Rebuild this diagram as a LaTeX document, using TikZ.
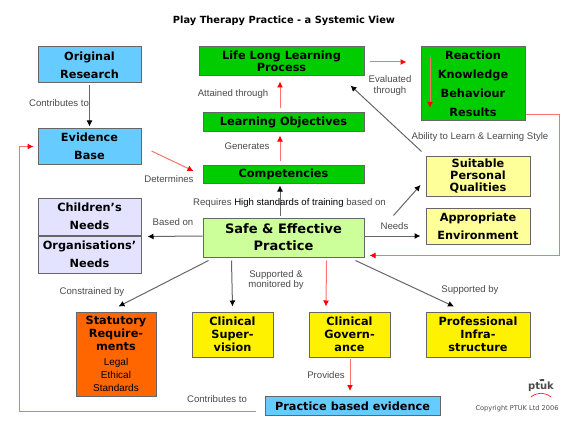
\documentclass[tikz,border=0pt]{standalone}
\usepackage{fontspec}
\setmainfont{DejaVu Sans}
\newfontfamily\labelfont{Liberation Sans}
\usepackage{tikz}
\usetikzlibrary{arrows.meta}
\definecolor{SkyBox}{HTML}{66CCFF}
\definecolor{GreenBox}{HTML}{00CC00}
\definecolor{PaleGreen}{HTML}{CCFF99}
\definecolor{PaleYellow}{HTML}{FFFF99}
\definecolor{Lilac}{HTML}{E3E3FF}
\definecolor{Burnt}{HTML}{FF6600}
\definecolor{BoxEdge}{HTML}{666666}
\definecolor{LabelGrey}{HTML}{4A4A4A}
\definecolor{RedLine}{HTML}{FF7070}
\definecolor{BlackLine}{HTML}{666666}
\tikzset{
  box/.style={draw=BoxEdge,line width=1pt,inner sep=0pt,align=center,text=black,
    font=\bfseries\fontsize{11.3}{18}\selectfont},
  tight/.style={font=\bfseries\fontsize{11.3}{12.2}\selectfont},
  lbl/.style={text=LabelGrey,inner sep=0pt,align=center,font=\labelfont\fontsize{9.6}{8}\selectfont},
  blk/.style={color=BlackLine,line width=1pt,-{Latex[black,length=6pt,width=6pt]}},
  redl/.style={color=RedLine,line width=1pt,-{Latex[red,length=6pt,width=6pt]}},
}
\begin{document}
\begin{tikzpicture}[x=1pt,y=-1pt]
  \useasboundingbox[fill=white] (0,0) rectangle (567,425);
  \node[inner sep=0pt,font=\bfseries\fontsize{9.85}{11}\selectfont] (title) at (284,21) {Play Therapy Practice - a Systemic View};
  % left column
  \node[box,fill=SkyBox,minimum width=103pt,minimum height=36pt] (research) at (89.5,65) {Original\\Research};
  \node[box,fill=SkyBox,minimum width=103pt,minimum height=36pt] (evidence) at (89.5,146) {Evidence\\Base};
  \node[box,fill=Lilac,minimum width=103pt,minimum height=37pt] (children) at (89.5,216.5) {Children’s\\Needs};
  \node[box,fill=Lilac,minimum width=103pt,minimum height=37pt] (organisations) at (89.5,254.5) {Organisations’\\Needs};
  % centre column
  \node[box,tight,fill=GreenBox,minimum width=165pt,minimum height=29pt] (lifelong) at (281.5,61.5) {Life Long Learning\\Process};
  \node[box,fill=GreenBox,minimum width=161pt,minimum height=18pt] (objectives) at (283.5,122) {Learning Objectives};
  \node[box,fill=GreenBox,minimum width=161pt,minimum height=18pt] (competencies) at (283.5,174) {Competencies};
  \node[box,fill=PaleGreen,minimum width=161pt,minimum height=39pt,font=\bfseries\fontsize{13}{17}\selectfont] (safe) at (283.5,237.5) {Safe \& Effective\\Practice};
  % right column
  \node[box,fill=GreenBox,minimum width=104pt,minimum height=74pt,font=\bfseries\fontsize{11.3}{19}\selectfont] (reaction) at (473,84) {Reaction\\Knowledge\\Behaviour\\Results};
  \node[box,tight,fill=PaleYellow,minimum width=104pt,minimum height=40pt] (suitable) at (478,176) {Suitable\\Personal\\Qualities};
  \node[box,fill=PaleYellow,minimum width=104pt,minimum height=36pt] (environment) at (478,226) {Appropriate\\Environment};
  % bottom row
  \node[box,fill=Burnt,minimum width=80pt,minimum height=84pt,font=\bfseries\fontsize{11.3}{13}\selectfont] (statutory) at (116,354) {Statutory\\Require-\\ments\\[2pt]{\labelfont\mdseries\fontsize{10}{13}\selectfont Legal}\\{\labelfont\mdseries\fontsize{10}{13}\selectfont Ethical}\\{\labelfont\mdseries\fontsize{10}{13}\selectfont Standards}};
  \node[box,fill=yellow,minimum width=81pt,minimum height=45pt,font=\bfseries\fontsize{11.3}{13}\selectfont] (supervision) at (232.5,334.5) {Clinical\\Super-\\vision};
  \node[box,fill=yellow,minimum width=81pt,minimum height=45pt,font=\bfseries\fontsize{11.3}{13}\selectfont] (governance) at (349.5,334.5) {Clinical\\Govern-\\ance};
  \node[box,fill=yellow,minimum width=104pt,minimum height=45pt,font=\bfseries\fontsize{11.3}{13}\selectfont] (infrastructure) at (478,334.5) {Professional\\Infra-\\structure};
  \node[box,fill=SkyBox,minimum width=175pt,minimum height=19pt] (practice) at (352.5,406) {Practice based evidence};
  % connectors
  \draw[blk] ([shift={(0,2)}]research.south) -- ([shift={(0,-1)}]evidence.north);
  \draw[redl] ([shift={(10,5)}]evidence.east) -- ([shift={(-9,-3)}]competencies.west);
  \draw[redl] ([shift={(-3.5,-4)}]objectives.north) -- ([shift={(-1.5,5)}]lifelong.south);
  \draw[redl] ([shift={(-3.5,-4)}]competencies.north) -- ([shift={(-3.5,4)}]objectives.south);
  \draw[blk] ([shift={(-3.5,-2)}]safe.north) -- ([shift={(-3.5,2)}]competencies.south);
  \draw[redl] ([shift={(5,0.5)}]lifelong.east) -- ([shift={(-14,-22)}]reaction.west);
  \coordinate (innertop) at (430,57);
  \coordinate (innerend) at (430,108);
  \draw[redl] (innertop) -- (innerend);
  \draw[blk] ([shift={(-4,-4)}]suitable.north west) -- ([shift={(-14,9)}]lifelong.south east);
  \draw[blk] ([shift={(29,-2)}]safe.north east) -- ([shift={(-5,9)}]suitable.west);
  \draw[blk] ([shift={(0,-1.5)}]safe.west) -- ([shift={(6,-18)}]organisations.east);
  \draw[blk] ([shift={(0,-1.5)}]safe.east) -- ([shift={(-5,10)}]environment.west);
  \draw[redl] ([shift={(0,30.5)}]reaction.east) -| (559.5,255.5) -- ([shift={(5,18)}]safe.east);
  \draw[blk] ([shift={(6,3)}]safe.south west) -- ([shift={(43,-5)}]statutory.north west);
  \draw[blk] ([shift={(29,3)}]safe.south west) -- ([shift={(0,-5)}]supervision.north);
  \draw[redl] ([shift={(-38,3)}]safe.south east) -- ([shift={(-23.5,-5)}]governance.north);
  \draw[blk] ([shift={(-9,3)}]safe.south east) -- ([shift={(-24,-5)}]infrastructure.north);
  \draw[redl] ([shift={(0.5,1)}]governance.south) -- ([shift={(-2.5,-5)}]practice.north);
  \draw[redl] ([shift={(-9,5.5)}]practice.west) -| (19.5,146.5) -- ([shift={(-4,0.5)}]evidence.west);
  % labels
  \node[lbl] (contributesa) at (59,103) {Contributes to};
  \node[lbl] (attained) at (233,94) {Attained through};
  \node[lbl] (generates) at (247,146) {Generates};
  \node[lbl] (determines) at (169,179) {Determines};
  \node[lbl] (requires) at (289.5,203) {Requires {\color{black}High standards of training} based on};
  \node[lbl,font=\labelfont\fontsize{9.6}{11.5}\selectfont] (evaluated) at (390,85.5) {Evaluated\\through};
  \node[lbl] (ability) at (480,137) {Ability to Learn \& Learning Style};
  \node[lbl] (basedon) at (173,222) {Based on};
  \node[lbl] (needs) at (394.5,226) {Needs};
  \node[lbl] (constrained) at (92,292.5) {Constrained by};
  \node[lbl] (monitored) at (276,280) {Supported \&\\monitored by};
  \node[lbl] (supportedby) at (470,290.5) {Supported by};
  \node[lbl] (provides) at (326,375) {Provides};
  \node[lbl] (contributesb) at (217,399) {Contributes to};
  % logo and copyright
  \node[inner sep=0pt,font=\bfseries\fontsize{10}{10}\selectfont,text=LabelGrey] (logo) at (541,387) {ptuk};
  \draw[red,line width=0.6pt] (531,397) .. controls (537,392) and (545,392) .. (551,397);
  \fill[LabelGrey] (539.5,380) rectangle (540.5,379) (540,379) rectangle (544,381);
  \node[inner sep=0pt,text=LabelGrey,font=\fontsize{6.6}{8}\selectfont] (copyright) at (517,409) {Copyright PTUK Ltd 2006};
\end{tikzpicture}
\end{document}
